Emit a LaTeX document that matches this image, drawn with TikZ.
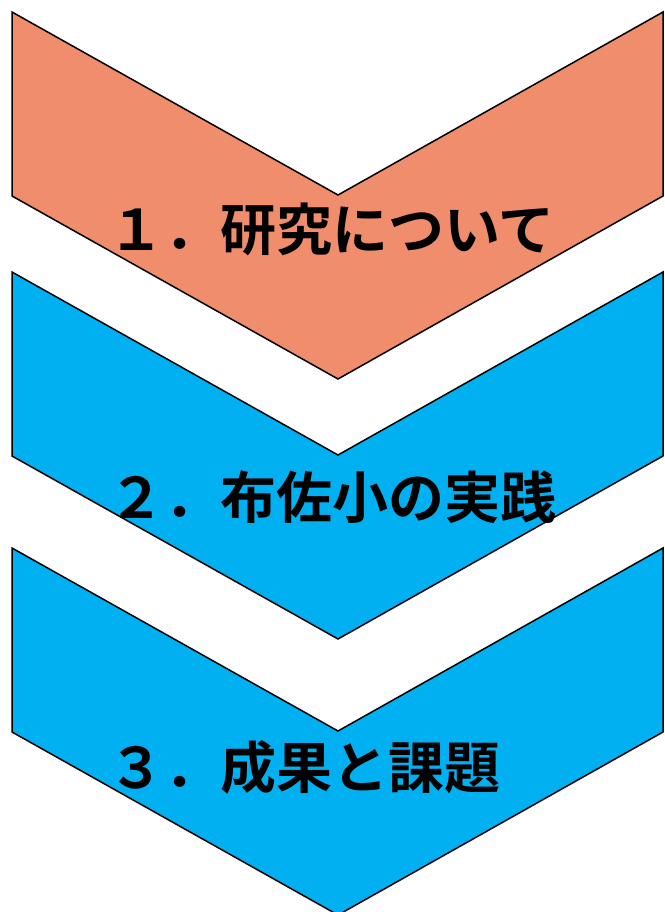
\documentclass[tikz,border=0pt]{standalone}
\usepackage{fontspec}
\newfontfamily\jp{Noto Sans CJK JP}[BoldFont={Noto Sans CJK JP Bold}]
\definecolor{chevorange}{RGB}{239,141,108}
\definecolor{chevblue}{RGB}{0,176,240}
\begin{document}
\begin{tikzpicture}[x=1pt,y=-1pt,
  chev/.style={draw=black,line width=1.5pt,line join=miter},
  lbl/.style={anchor=west,inner sep=0pt,font=\jp\bfseries\fontsize{56}{62}\selectfont}]
\useasboundingbox (0,0) rectangle (664,912);
\foreach \y/\c in {12/chevorange,272/chevblue,548/chevblue}{
  \path[chev,fill=\c] (12,\y) -- (338,\y+183) -- (663,\y) -- (663,\y+184) -- (338,\y+367) -- (12,\y+184) -- cycle;
}
\node[lbl] (t1) at (108,229) {１．研究について};
\node[lbl] (t2) at (108,497) {２．布佐小の実践};
\node[lbl] (t3) at (108,767) {３．成果と課題};
\end{tikzpicture}
\end{document}
